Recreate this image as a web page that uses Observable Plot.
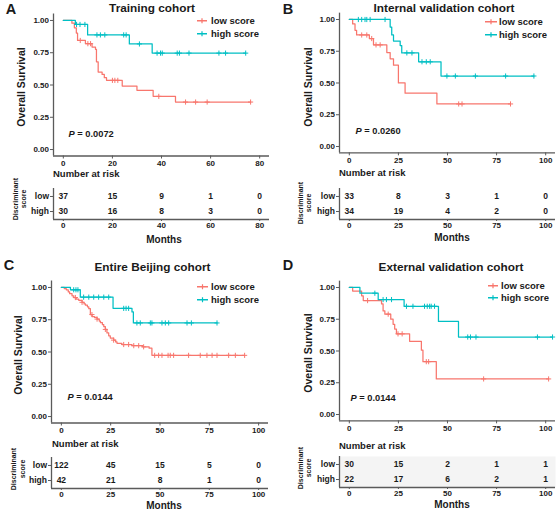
<!DOCTYPE html>
<html><head><meta charset="utf-8">
<script src="https://cdn.jsdelivr.net/npm/d3@7"></script>
<script src="https://cdn.jsdelivr.net/npm/@observablehq/plot@0.6"></script>
<style>
body{margin:0;background:#fff;}
#root{position:relative;width:560px;height:515px;overflow:hidden;font-family:"Liberation Sans",Arial,sans-serif;background:#fff;}
.t{position:absolute;white-space:nowrap;font-weight:bold;color:#1a1a1a;line-height:1;}
.lg{position:absolute;display:flex;align-items:center;white-space:nowrap;font-weight:bold;color:#1a1a1a;line-height:1;transform:translateY(-50%);}
</style></head><body><div id="root"></div>
<script>
// ---------- shared ----------
const groups = ["low", "high"];
const legendLabels = ["low score", "high score"];
const yTicks = [0, 0.25, 0.5, 0.75, 1];
const yDomain = [-0.05, 1.05];

// ---------- Panel A: Training cohort ----------
const aLowT = [0, 3.5, 4.5, 5.3, 5.8, 9, 11.7, 13.1, 13.5, 14.2, 15.8, 16.7, 17.6, 24, 30, 36.6, 45.7, 76.3];
const aLowS = [1, 0.979, 0.943, 0.902, 0.845, 0.82, 0.794, 0.776, 0.68, 0.60, 0.582, 0.557, 0.536, 0.492, 0.459, 0.412, 0.368, 0.368];
const aLowCens = [6.9, 10, 11.1, 20, 21, 22.2, 38.9, 49.8, 53.9, 58.6, 76.3];
const aHighT = [0, 4.9, 9.9, 26.9, 36.2, 74.3];
const aHighS = [1, 0.969, 0.888, 0.818, 0.747, 0.747];
const aHighCens = [5.4, 6.8, 8.8, 13.7, 15.1, 16.9, 24.6, 25.6, 31, 38.2, 39.6, 40.3, 46.4, 47.3, 51.2, 63.4, 66.1, 74.3];
const aRiskTimes = [0, 20, 40, 60, 80];
const aRiskLow = [37, 15, 9, 1, 0];
const aRiskHigh = [30, 16, 8, 3, 0];

// ---------- Panel B: Internal validation cohort ----------
const bLowT = [0, 1.7, 2.9, 3.7, 10.2, 12.3, 19.1, 20.8, 22.5, 25, 28.4, 44.6, 82.1];
const bLowS = [1, 0.965, 0.915, 0.878, 0.85, 0.80, 0.74, 0.69, 0.64, 0.50, 0.42, 0.335, 0.335];
const bLowCens = [6.3, 8.9, 11.4, 13.6, 15.7, 55.7, 57.4, 82.1];
const bHighT = [0, 20.8, 21.6, 22.5, 25.9, 26.7, 35.3, 46.7, 94];
const bHighS = [1, 0.94, 0.878, 0.83, 0.795, 0.737, 0.667, 0.555, 0.555];
const bHighCens = [4.6, 6.3, 8.0, 8.9, 10.6, 18.2, 29.3, 31.9, 37, 39.2, 41.2, 49.7, 54, 64.2, 79.6, 94];
const bRiskTimes = [0, 25, 50, 75, 100];
const bRiskLow = [33, 8, 3, 1, 0];
const bRiskHigh = [34, 19, 4, 2, 0];

// ---------- Panel C: Entire Beijing cohort ----------
const cLowT = [0, 1.5, 2.5, 3.5, 4.2, 5.4, 6.3, 7.5, 8.8, 10.5, 11.5, 12.2, 13.2, 13.9, 14.7, 15.6, 16.8, 18.1, 19.2, 19.8, 20.8, 21.5, 22.3, 23.1, 24.0, 24.8, 26.5, 27.5, 28.2, 30.7, 35.8, 41.2, 44.5, 45.9, 92.9];
const cLowS = [1, 0.99, 0.982, 0.965, 0.952, 0.935, 0.922, 0.91, 0.9, 0.885, 0.872, 0.863, 0.85, 0.836, 0.79, 0.775, 0.768, 0.755, 0.74, 0.727, 0.712, 0.696, 0.675, 0.648, 0.625, 0.608, 0.592, 0.578, 0.567, 0.558, 0.549, 0.54, 0.53, 0.474, 0.474];
const cLowCens = [7.1, 10.5, 15.5, 18.1, 22.3, 26.5, 31.6, 34.1, 36.7, 39.2, 41.7, 47.3, 49.3, 51, 54.1, 55.2, 56.9, 64.5, 70.4, 73.8, 76.4, 78.9, 84.8, 88.2, 92.9];
const cHighT = [0, 4.6, 9.6, 26.2, 35.8, 36.5, 78.9];
const cHighS = [1, 0.982, 0.925, 0.838, 0.81, 0.725, 0.725];
const cHighCens = [6.25, 7.4, 8.4, 11.3, 13.9, 16.4, 18.9, 21.5, 24, 31.6, 32.8, 34.1, 38.3, 40, 45.1, 45.9, 51, 52.7, 54.4, 63.7, 65.9, 78.9];
const cRiskTimes = [0, 25, 50, 75, 100];
const cRiskLow = [122, 45, 15, 5, 0];
const cRiskHigh = [42, 21, 8, 1, 0];

// ---------- Panel D: External validation cohort ----------
const dLowT = [0, 1.7, 6.25, 7.1, 16.4, 17.2, 18.1, 21.1, 22.3, 23.1, 24, 30.7, 36.7, 37.5, 44.3, 101.5];
const dLowS = [1, 0.972, 0.935, 0.897, 0.871, 0.815, 0.79, 0.75, 0.71, 0.673, 0.635, 0.576, 0.506, 0.416, 0.28, 0.28];
const dLowCens = [9.3, 19.8, 24.8, 26.9, 39.2, 40.4, 68.4, 101.5];
const dHighT = [0, 5.4, 14.7, 27.9, 45.4, 55.6, 103.5];
const dHighS = [1, 0.955, 0.905, 0.852, 0.733, 0.61, 0.61];
const dHighCens = [13, 17.2, 18.9, 21.5, 29.1, 32.4, 38.3, 39.7, 40.9, 41.7, 43.4, 60.3, 61.7, 64.5, 95.8, 103.5];
const dRiskTimes = [0, 25, 50, 75, 100];
const dRiskLow = [30, 15, 2, 1, 1];
const dRiskHigh = [22, 17, 6, 2, 1];

const pValues = ["0.0072", "0.0260", "0.0144", "0.0144"];
const titles = ["Training cohort", "Internal validation cohort", "Entire Beijing cohort", "External validation cohort"];
const letters = ["A", "B", "C", "D"];

// ---------- styling ----------
const COLORS = ["#F8766D", "#00BFC4"];
const AXIS = "#5a5a5a";
const TEXT = "#1a1a1a";
const FONT = '"Liberation Sans", Arial, sans-serif';
const tableYDomain = [-0.53, 1.53];

const root = document.getElementById("root");

function label(s, x, y, o = {}) {
  const d = document.createElement("div");
  d.className = "t";
  d.textContent = s;
  d.style.left = x + "px";
  d.style.top = y + "px";
  d.style.fontSize = (o.size || 9) + "px";
  if (o.italic) d.style.fontStyle = "italic";
  const tx = o.anchor === "start" ? "0" : "-50%";
  d.style.transform = `translate(${tx},-50%)` + (o.rotate ? " rotate(-90deg)" : "");
  root.appendChild(d);
}

function legend(x, y, textX, lineLen, color, text) {
  const d = document.createElement("div");
  d.className = "lg";
  d.style.left = x + "px";
  d.style.top = y + "px";
  d.style.fontSize = "9.5px";
  const ns = "http://www.w3.org/2000/svg";
  const s = document.createElementNS(ns, "svg");
  s.setAttribute("width", lineLen);
  s.setAttribute("height", 7);
  s.style.display = "block";
  const l1 = document.createElementNS(ns, "line");
  l1.setAttribute("x1", 0); l1.setAttribute("x2", lineLen);
  l1.setAttribute("y1", 3.5); l1.setAttribute("y2", 3.5);
  l1.setAttribute("stroke", color); l1.setAttribute("stroke-width", 1.4);
  const l2 = document.createElementNS(ns, "line");
  l2.setAttribute("x1", lineLen / 2); l2.setAttribute("x2", lineLen / 2);
  l2.setAttribute("y1", 1); l2.setAttribute("y2", 6);
  l2.setAttribute("stroke", color); l2.setAttribute("stroke-width", 1.2);
  s.appendChild(l1); s.appendChild(l2);
  const sp = document.createElement("span");
  sp.textContent = text;
  sp.style.marginLeft = (textX - x - lineLen) + "px";
  d.appendChild(s); d.appendChild(sp);
  root.appendChild(d);
}

function survAt(T, S, t) {
  let s = S[0];
  for (let i = 0; i < T.length; i++) if (T[i] <= t) s = S[i];
  return s;
}

function place(svg, left, top) {
  svg.style.position = "absolute";
  svg.style.left = left + "px";
  svg.style.top = top + "px";
  root.appendChild(svg);
}

const baseStyle = {fontFamily: FONT, fontSize: "8px", fontWeight: "bold", color: TEXT, background: "transparent", overflow: "visible"};

function kmPlot(p) {
  const curves = [
    {T: p.lowT, S: p.lowS, C: p.lowC, color: COLORS[0]},
    {T: p.highT, S: p.highS, C: p.highC, color: COLORS[1]}
  ];
  const marks = [
    Plot.ruleX([p.xDomain[0]], {stroke: AXIS, strokeWidth: 1.3}),
    Plot.ruleY([yDomain[0]], {stroke: AXIS, strokeWidth: 1.3}),
    Plot.axisX({ticks: p.xTicks, tickSize: 3, tickPadding: 1.5, stroke: AXIS, fill: TEXT, fontSize: 8, label: null}),
    Plot.axisY({ticks: yTicks, tickFormat: d3.format(".2f"), tickSize: 3, tickPadding: 1.5, stroke: AXIS, fill: TEXT, fontSize: 8, label: null})
  ];
  for (const c of curves) {
    const pts = c.T.map((t, i) => ({t, s: c.S[i]}));
    marks.push(Plot.line(pts, {x: "t", y: "s", curve: "step-after", stroke: c.color, strokeWidth: 1.25}));
    const cens = c.C.map(t => ({t, s: survAt(c.T, c.S, t)}));
    marks.push(Plot.dot(cens, {x: "t", y: "s", symbol: "plus", r: 1.8, stroke: c.color, strokeWidth: 1}));
  }
  marks.push(Plot.text(["P"], {text: d => d, frameAnchor: "bottom-left", dx: p.pdx, dy: p.pdy, textAnchor: "start", fontStyle: "italic", fontSize: 9.3, fill: TEXT}));
  marks.push(Plot.text(["= " + p.pval], {text: d => d, frameAnchor: "bottom-left", dx: p.pdx + 8.8, dy: p.pdy, textAnchor: "start", fontSize: 9.3, fill: TEXT}));
  return Plot.plot({
    width: 280, height: p.mt + p.fh + 17,
    marginLeft: p.ml, marginRight: p.mr, marginTop: p.mt, marginBottom: 17,
    x: {domain: p.xDomain, label: null},
    y: {domain: yDomain, label: null},
    style: baseStyle,
    marks
  });
}

function riskTable(p) {
  const rows = [];
  [p.riskLow, p.riskHigh].forEach((arr, gi) => arr.forEach((n, i) => rows.push({t: p.xTicks[i], row: gi, n})));
  const marks = [];
  if (p.shade) marks.push(Plot.frame({fill: "#f4f4f4", stroke: "none"}));
  marks.push(
    Plot.ruleX([p.xDomain[0]], {stroke: AXIS, strokeWidth: 1.3}),
    Plot.ruleY([tableYDomain[1]], {stroke: AXIS, strokeWidth: 1.3}),
    Plot.axisX({ticks: p.xTicks, tickSize: 2, tickPadding: 1, stroke: AXIS, fill: TEXT, fontSize: 8, label: null}),
    Plot.axisY({ticks: [0, 1], tickFormat: i => groups[i], tickSize: 3, tickPadding: 1.5, stroke: AXIS, fill: TEXT, fontSize: 8.5, label: null}),
    Plot.text(rows, {x: "t", y: "row", text: "n", fontSize: 8.5, fontWeight: "bold", fill: TEXT})
  );
  return Plot.plot({
    width: 280, height: 58,
    marginLeft: p.ml, marginRight: p.mr, marginTop: 13, marginBottom: 14,
    x: {domain: p.xDomain, label: null},
    y: {domain: tableYDomain, reverse: true, label: null},
    style: baseStyle,
    marks
  });
}

const panels = [
  {left: 0, top: 0, ml: 53, mr: 11, mt: 13.5, fh: 142, xDomain: [-4, 84], xTicks: aRiskTimes,
   lowT: aLowT, lowS: aLowS, lowC: aLowCens, highT: aHighT, highS: aHighS, highC: aHighCens,
   riskLow: aRiskLow, riskHigh: aRiskHigh, pdx: 15, pdy: -19.5, tableTop: 175,
   letter: [11, 9], title: [152, 8.5], ylab: [21, 87], nar: [53, 174], disc: [15, 23, 199], months: [164, 240],
   leg: [197, 211, 10, 21, 34]},
  {left: 280, top: 0, ml: 59, mr: 5, mt: 12.65, fh: 139.7, xDomain: [-5, 105], xTicks: bRiskTimes,
   lowT: bLowT, lowS: bLowS, lowC: bLowCens, highT: bHighT, highS: bHighS, highC: bHighCens,
   riskLow: bRiskLow, riskHigh: bRiskHigh, pdx: 16, pdy: -18.35, tableTop: 175,
   letter: [288, 9], title: [444, 8.5], ylab: [307.5, 87], nar: [339, 173], disc: [300, 308, 203], months: [452, 237.5],
   leg: [485, 499, 12, 22, 35]},
  {left: 0, top: 255, ml: 51, mr: 12, mt: 25.5, fh: 142, xDomain: [-5, 105], xTicks: cRiskTimes,
   lowT: cLowT, lowS: cLowS, lowC: cLowCens, highT: cHighT, highS: cHighS, highC: cHighCens,
   riskLow: cRiskLow, riskHigh: cRiskHigh, pdx: 16, pdy: -23.5, tableTop: 444,
   letter: [9, 265], title: [152.5, 268], ylab: [18, 355], nar: [52, 444], disc: [13, 22, 469], months: [164, 506],
   leg: [197, 211, 11, 287, 300]},
  {left: 280, top: 255, ml: 59, mr: 5, mt: 25.65, fh: 139.7, xDomain: [-5, 105], xTicks: dRiskTimes,
   lowT: dLowT, lowS: dLowS, lowC: dLowCens, highT: dHighT, highS: dHighS, highC: dHighCens,
   riskLow: dRiskLow, riskHigh: dRiskHigh, pdx: 11, pdy: -19.35, tableTop: 443, shade: true,
   letter: [288, 265], title: [451, 268], ylab: [308, 353], nar: [339, 446], disc: [300, 308, 468], months: [452, 505],
   leg: [488, 501, 10, 286, 298]}
];

panels.forEach((p, k) => {
  p.pval = pValues[k];
  place(kmPlot(p), p.left, p.top);
  place(riskTable(p), p.left, p.tableTop);
  label(letters[k], p.letter[0], p.letter[1], {size: 14.5});
  label(titles[k], p.title[0], p.title[1], {size: 11.8});
  label("Overall Survival", p.ylab[0], p.ylab[1], {size: 10.5, rotate: true});
  label("Number at risk", p.nar[0], p.nar[1], {size: 9.5, anchor: "start"});
  label("Discriminant", p.disc[0], p.disc[2], {size: 7, rotate: true});
  label("score", p.disc[1], p.disc[2], {size: 7, rotate: true});
  label("Months", p.months[0], p.months[1], {size: 10});
  legend(p.leg[0], p.leg[3], p.leg[1], p.leg[2], COLORS[0], legendLabels[0]);
  legend(p.leg[0], p.leg[4], p.leg[1], p.leg[2], COLORS[1], legendLabels[1]);
});
</script></body></html>
